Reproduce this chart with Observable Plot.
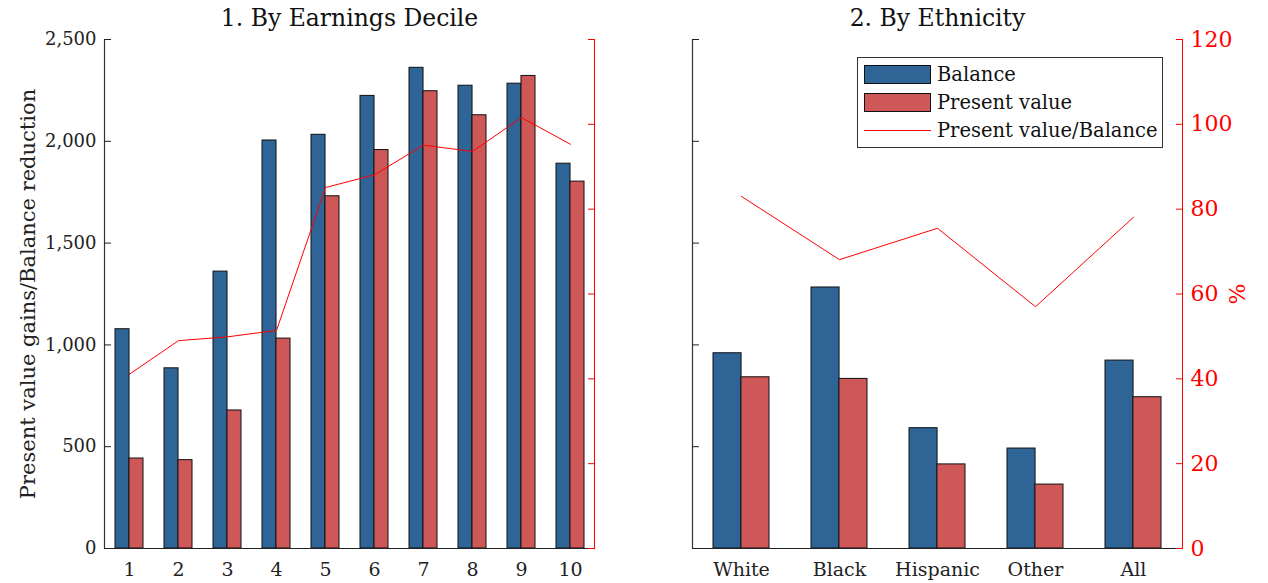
<!DOCTYPE html>
<html><head><meta charset="utf-8">
<script src="https://cdn.jsdelivr.net/npm/d3@7"></script>
<script src="https://cdn.jsdelivr.net/npm/@observablehq/plot@0.6"></script>
<style>
body{margin:0;background:#fff;}
#wrap{position:relative;width:1268px;height:583px;display:flex;font-family:"DejaVu Serif",serif;}
#wrap svg{display:block;}
.legend{position:absolute;left:857px;top:57px;width:306px;height:91px;border:1px solid #333;background:#fff;font-size:19.5px;color:#111;box-sizing:border-box;}
.row{position:absolute;left:6px;height:20px;display:flex;align-items:center;white-space:nowrap;}
.sw{width:67px;height:19px;box-sizing:border-box;border:1px solid #111;margin-right:6px;}
.ln{width:67px;height:0;border-top:1px solid #ff0000;margin-right:6px;}
</style></head><body>
<div id="wrap"><div id="left"></div><div id="right"></div><div class="legend" id="legend"></div></div>
<script>
const deciles = ["1","2","3","4","5","6","7","8","9","10"];
const decileBalance = [1077, 885, 1360, 2004, 2032, 2223, 2361, 2273, 2283, 1890];
const decilePresentValue = [442, 434, 678, 1031, 1730, 1957, 2246, 2128, 2321, 1802];
const decileRatio = [41.1, 49.0, 49.9, 51.4, 85.1, 88.1, 95.1, 93.6, 101.6, 95.3];

const ethnicities = ["White","Black","Hispanic","Other","All"];
const ethnicBalance = [959, 1282, 591, 491, 923];
const ethnicPresentValue = [841, 833, 413, 314, 743];
const ethnicRatio = [83.0, 68.1, 75.5, 57.0, 78.1];

const amountTicks = [0, 500, 1000, 1500, 2000, 2500];
const pctTicks = [0, 20, 40, 60, 80, 100, 120];
const seriesNames = ["Balance", "Present value", "Present value/Balance"];
const seriesColors = ["#2f6497", "#ce5757", "#ff0000"];

const yMax = 2500, pctMax = 120, k = yMax / pctMax;
const font = "'DejaVu Serif', serif";
const padIn = 0.43, padOut = 0.215;

function panel({cats, bal, pv, ratio, title, width, marginLeft, marginRight, showAmountLabels, showPctLabels}) {
  const rows = cats.map((c, i) => ({cat: c, bal: bal[i], pv: pv[i], ratio: ratio[i]}));
  const plotW = width - marginLeft - marginRight;
  const half = plotW / cats.length * (1 - padIn) / 2;
  return Plot.plot({
    width, height: 583, marginTop: 39, marginBottom: 35, marginLeft, marginRight,
    style: {fontFamily: font, fontSize: "18px", color: "#222", background: "white", overflow: "visible"},
    x: {type: "band", domain: cats, paddingInner: padIn, paddingOuter: padOut, label: null},
    y: {domain: [0, yMax], label: null},
    marks: [
      Plot.barY(rows, {x: "cat", y: "bal", fill: seriesColors[0], stroke: "#111", strokeWidth: 1, insetRight: half}),
      Plot.barY(rows, {x: "cat", y: "pv", fill: seriesColors[1], stroke: "#111", strokeWidth: 1, insetLeft: half}),
      Plot.lineY(rows, {x: "cat", y: d => d.ratio * k, stroke: seriesColors[2], strokeWidth: 1}),
      Plot.ruleY([0], {stroke: "#222", strokeWidth: 1.2}),
      Plot.frame({anchor: "left", stroke: "#333", strokeWidth: 1.2}),
      Plot.frame({anchor: "right", stroke: "#ff0000", strokeWidth: 1}),
      Plot.axisX({tickSize: 0, tickPadding: 14, fontSize: 19, label: null}),
      Plot.axisY(amountTicks, {anchor: "left", tickSize: -7, tickPadding: 15, stroke: "#222", fontSize: 18,
        tickFormat: showAmountLabels ? d3.format(",") : () => "",
        label: null}),
      Plot.axisY(amountTicks, {anchor: "left", tickSize: 0, tickFormat: () => "",
        label: showAmountLabels ? "Present value gains/Balance reduction" : null,
        labelAnchor: "center", labelArrow: "none", labelOffset: 84, fontSize: 21}),
      Plot.axisY(pctTicks.map(v => v * k), {anchor: "right", tickSize: -7, tickPadding: 15, color: "#ff0000",
        tickFormat: showPctLabels ? (v => String(Math.round(v / k))) : () => "",
        label: showPctLabels ? "%" : null,
        labelAnchor: "center", labelArrow: "none", labelOffset: 62, fontSize: 22}),
      Plot.text([title], {frameAnchor: "top", dy: -21, lineAnchor: "middle", fontSize: 23.5, fill: "#111"})
    ]
  });
}

document.getElementById("left").append(panel({
  cats: deciles, bal: decileBalance, pv: decilePresentValue, ratio: decileRatio,
  title: "1. By Earnings Decile", width: 634, marginLeft: 104, marginRight: 40,
  showAmountLabels: true, showPctLabels: false
}));
document.getElementById("right").append(panel({
  cats: ethnicities, bal: ethnicBalance, pv: ethnicPresentValue, ratio: ethnicRatio,
  title: "2. By Ethnicity", width: 634, marginLeft: 58, marginRight: 86,
  showAmountLabels: false, showPctLabels: true
}));

const legend = document.getElementById("legend");
seriesNames.forEach((name, i) => {
  const row = document.createElement("div");
  row.className = "row";
  row.style.top = (6 + i * 28) + "px";
  const sw = document.createElement("div");
  sw.className = i < 2 ? "sw" : "ln";
  if (i < 2) sw.style.background = seriesColors[i];
  const t = document.createElement("span");
  t.textContent = name;
  row.append(sw, t);
  legend.append(row);
});
</script>
</body></html>
